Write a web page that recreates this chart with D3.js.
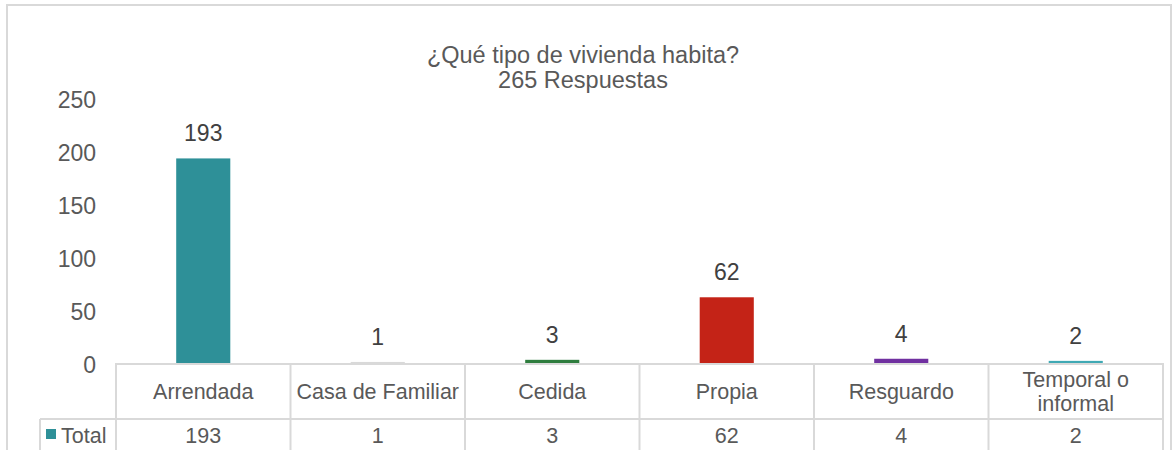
<!DOCTYPE html>
<html>
<head>
<meta charset="utf-8">
<script src="https://cdn.jsdelivr.net/npm/d3@7"></script>
<style>
  html, body { margin: 0; padding: 0; background: #fff; }
  svg { display: block; font-family: "Liberation Sans", Arial, sans-serif; }
</style>
</head>
<body>
<svg id="chart" width="1172" height="450"></svg>
<script>
const categories = ["Arrendada", "Casa de Familiar", "Cedida", "Propia", "Resguardo", "Temporal o informal"];
const headerLines = [["Arrendada"], ["Casa de Familiar"], ["Cedida"], ["Propia"], ["Resguardo"], ["Temporal o", "informal"]];
const values = [193, 1, 3, 62, 4, 2];
const barColors = ["#2E9098", "#D9D9D9", "#2E7D3E", "#C42317", "#7030A0", "#3FA9B4"];
const yTicks = [0, 50, 100, 150, 200, 250];
const titleLines = ["¿Qué tipo de vivienda habita?", "265 Respuestas"];
const seriesName = "Total";

const svg = d3.select("#chart");
const textColor = "#595959";
const lineColor = "#D9D9D9";

// outer border
svg.append("rect").attr("x", 7).attr("y", 5).attr("width", 1164).attr("height", 460)
  .attr("fill", "none").attr("stroke", lineColor).attr("stroke-width", 2);

const x = d3.scaleBand().domain(categories).range([116, 1163])
  .paddingInner(0.69).paddingOuter(0.345);
const y = d3.scaleLinear().domain([0, 250]).range([363, 98]);

// title
svg.append("g").selectAll("text").data(titleLines).join("text")
  .attr("x", 583).attr("y", (d, i) => 63 + i * 25)
  .attr("text-anchor", "middle").attr("fill", textColor)
  .style("font-size", "23.5px").text(d => d);

// y axis labels
const yAxis = d3.axisLeft(y).tickValues(yTicks).tickSize(0).tickPadding(0);
const ga = svg.append("g").attr("transform", "translate(96,2)").call(yAxis);
ga.select(".domain").remove();
ga.selectAll("text").attr("fill", textColor).style("font-size", "23px")
  .style("font-family", "'Liberation Sans', Arial, sans-serif");

// data table
const step = x.step();
const bounds = categories.map((c, i) => 116 + i * step).concat([1163]);
const tbl = svg.append("g").attr("stroke", lineColor).attr("stroke-width", 2);
tbl.append("line").attr("x1", 116).attr("x2", 1163).attr("y1", 364).attr("y2", 364);
tbl.append("line").attr("x1", 40).attr("x2", 1163).attr("y1", 419).attr("y2", 419);
tbl.selectAll("line.v").data(bounds).join("line").attr("class", "v")
  .attr("x1", d => d).attr("x2", d => d).attr("y1", 363).attr("y2", 452);
tbl.append("line").attr("x1", 40).attr("x2", 40).attr("y1", 419).attr("y2", 452);

// bars
svg.append("g").selectAll("rect").data(values).join("rect")
  .attr("x", (d, i) => x(categories[i]))
  .attr("width", x.bandwidth())
  .attr("y", d => y(d))
  .attr("height", d => y(0) - y(d))
  .attr("fill", (d, i) => barColors[i]);

// data labels
svg.append("g").selectAll("text").data(values).join("text")
  .attr("x", (d, i) => x(categories[i]) + x.bandwidth() / 2)
  .attr("y", d => y(d) - 17)
  .attr("text-anchor", "middle").attr("fill", "#404040")
  .style("font-size", "23px").text(d => d);

// header text
const hdr = svg.append("g");
headerLines.forEach((lines, i) => {
  const cx = x(categories[i]) + x.bandwidth() / 2;
  const n = lines.length;
  lines.forEach((l, j) => {
    hdr.append("text").attr("x", cx)
      .attr("y", 399 + (j - (n - 1) / 2) * 24)
      .attr("text-anchor", "middle").attr("fill", textColor)
      .style("font-size", "21.5px").text(l);
  });
});

// data row
svg.append("g").selectAll("text").data(values).join("text")
  .attr("x", (d, i) => x(categories[i]) + x.bandwidth() / 2)
  .attr("y", 443)
  .attr("text-anchor", "middle").attr("fill", textColor)
  .style("font-size", "21.5px").text(d => d);

// legend key
svg.append("rect").attr("x", 46).attr("y", 429).attr("width", 10).attr("height", 10).attr("fill", barColors[0]);
svg.append("text").attr("x", 61).attr("y", 443).attr("fill", textColor)
  .style("font-size", "21.5px").text(seriesName);
</script>
</body>
</html>
